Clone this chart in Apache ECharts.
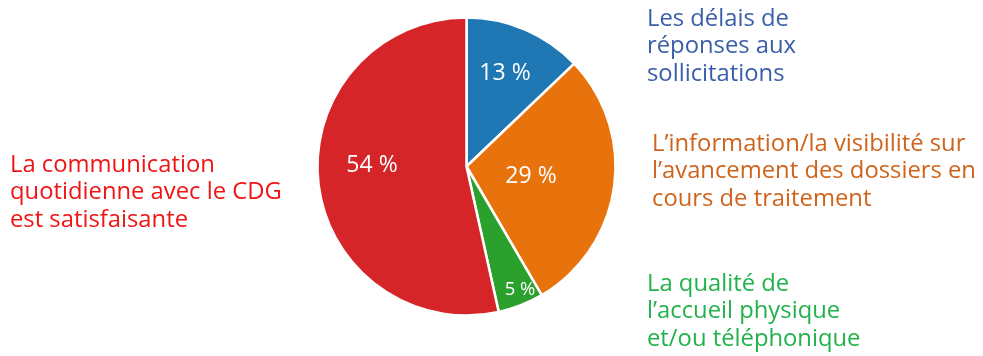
<!DOCTYPE html>
<html>
<head>
<meta charset="utf-8">
<script src="https://cdn.jsdelivr.net/npm/echarts@6/dist/echarts.min.js"></script>
<style>
  html, body { margin: 0; padding: 0; background: #fff; }
  #chart { width: 983px; height: 356px; }
</style>
</head>
<body>
<div id="chart"></div>
<script>
const categories = [
  "Les délais de\nréponses aux\nsollicitations",
  "L’information/la visibilité sur\nl’avancement des dossiers en\ncours de traitement",
  "La qualité de\nl’accueil physique\net/ou téléphonique",
  "La communication\nquotidienne avec le CDG\nest satisfaisante"
];
const values = [13, 29, 5, 54];

const sliceColors = ["#1f77b4", "#e8720c", "#2ca02c", "#d62528"];
const textColors = ["#3a5ea8", "#d0631c", "#22b24c", "#f01414"];
// where each category name and percent label sits
const namePos = [[647, 5], [652, 130], [647, 270], [10, 151]];
const pctPos = [[505, 73], [531, 176], [520, 290], [372, 165]];

const chart = echarts.init(document.getElementById("chart"));

chart.setOption({
  animation: false,
  backgroundColor: "#fff",
  series: [{
    type: "pie",
    center: [466.5, 166.5],
    radius: 149,
    startAngle: 90,
    clockwise: true,
    data: values.map((v, i) => ({
      name: categories[i],
      value: v,
      itemStyle: {color: sliceColors[i]},
      label: {fontSize: i === 2 ? 18.5 : 23}
    })),
    itemStyle: {borderColor: "#fff", borderWidth: 2.5},
    label: {
      show: true,
      position: "inside",
      color: "#fff",
      fontFamily: "Open Sans",
      formatter: (p) => p.value + " %"
    },
    labelLine: {show: false},
    labelLayout: (p) => ({
      x: pctPos[p.dataIndex][0],
      y: pctPos[p.dataIndex][1],
      align: "center",
      verticalAlign: "middle"
    })
  }],
  graphic: categories.map((c, i) => ({
    type: "text",
    x: namePos[i][0],
    y: namePos[i][1],
    style: {
      text: c,
      fill: textColors[i],
      font: '23.8px "Open Sans"',
      lineHeight: 27.5,
      verticalAlign: "top"
    }
  }))
});
</script>
</body>
</html>
